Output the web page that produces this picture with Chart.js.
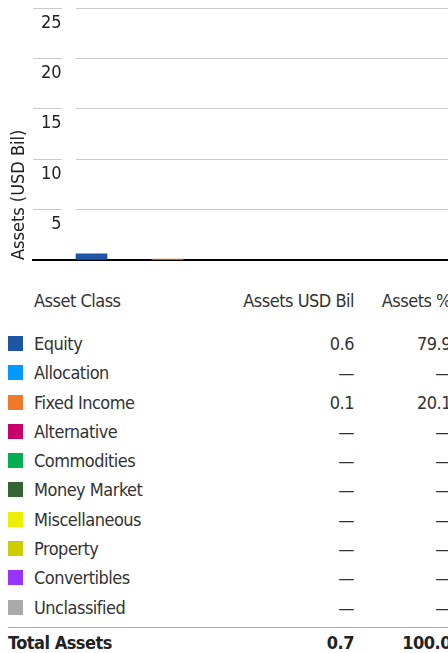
<!DOCTYPE html>
<html>
<head>
<meta charset="utf-8">
<script src="https://cdn.jsdelivr.net/npm/chart.js@4"></script>
<style>
  body { margin: 0; width: 448px; height: 653px; overflow: hidden; background: #fff;
         font-family: "Liberation Sans Narrow", "DejaVu Sans Condensed", sans-serif; color: #333; }
  #wrap { position: absolute; left: 0; top: 0; width: 834px; height: 270px; }
  table { position: absolute; left: 8px; top: 286px; border-collapse: collapse; table-layout: fixed;
          width: 443px; font-size: 18px; letter-spacing: -0.5px; }
  td, th { padding: 0; line-height: 29.3px; vertical-align: top; font-weight: normal; white-space: nowrap; }
  th { height: 43px; }
  .num { text-align: right; }
  .sq { display: inline-block; width: 15px; height: 15px; margin-right: 11px; vertical-align: -1px; }
  tr.last td { padding-bottom: 5px; }
  tr.total td { border-top: 1px solid #aaa; font-weight: bold; color: #222; }
</style>
</head>
<body>
<div id="wrap"><canvas id="assetChart"></canvas></div>
<table id="assetTable">
  <colgroup><col style="width:226px"><col style="width:120px"><col style="width:97px"></colgroup>
  <thead><tr><th style="text-align:left;padding-left:26px">Asset Class</th><th class="num">Assets USD Bil</th><th class="num">Assets %</th></tr></thead>
  <tbody></tbody>
</table>
<script>
const categories = ["Equity", "Allocation", "Fixed Income", "Alternative", "Commodities",
    "Money Market", "Miscellaneous", "Property", "Convertibles", "Unclassified"];
const colors = ["#1f55a5", "#0099ff", "#f07a2a", "#c7006a", "#00b050",
    "#336633", "#eeee00", "#cccc00", "#9933ff", "#aaaaaa"];
const assetsBil = [0.6, null, 0.1, null, null, null, null, null, null, null];
const assetsPct = [79.9, null, 20.1, null, null, null, null, null, null, null];
const totalBil = 0.7;
const totalPct = 100.0;

// order of the bars in the chart
const chartCategories = ["Equity", "Fixed Income", "Allocation", "Alternative", "Commodities",
    "Money Market", "Miscellaneous", "Property", "Convertibles", "Unclassified"];
const yTicks = [0, 5, 10, 15, 20, 25];

const tbody = document.querySelector("#assetTable tbody");
categories.forEach((c, i) => {
    const tr = document.createElement("tr");
    if (i === categories.length - 1) tr.className = "last";
    const b = assetsBil[i] === null ? "\u2014" : assetsBil[i].toFixed(1);
    const p = assetsPct[i] === null ? "\u2014" : assetsPct[i].toFixed(1);
    tr.innerHTML = '<td><span class="sq" style="background:' + colors[i] + '"></span>' + c +
        '</td><td class="num">' + b + '</td><td class="num">' + p + '</td>';
    tbody.appendChild(tr);
});
const totalRow = document.createElement("tr");
totalRow.className = "total";
totalRow.innerHTML = '<td>Total Assets</td><td class="num">' + totalBil.toFixed(1) +
    '</td><td class="num">' + totalPct.toFixed(1) + '</td>';
tbody.appendChild(totalRow);

Chart.defaults.font.family = '"Liberation Sans Narrow", "DejaVu Sans Condensed", sans-serif';
Chart.defaults.color = "#222";

const barData = chartCategories.map((c, i) => ({ x: i, y: assetsBil[categories.indexOf(c)] }));
const barColors = chartCategories.map(c => colors[categories.indexOf(c)]);

new Chart(document.getElementById("assetChart"), {
    type: "bar",
    data: {
        datasets: [{
            label: "Assets USD Bil",
            data: barData,
            backgroundColor: barColors,
            barThickness: 31
        }]
    },
    options: {
        responsive: true,
        maintainAspectRatio: false,
        animation: false,
        layout: { padding: { top: 8, left: 0, right: 0, bottom: 0 } },
        plugins: { legend: { display: false }, tooltip: { enabled: false } },
        scales: {
            x: {
                type: "linear",
                offset: false,
                min: -0.77,
                max: 9.77,
                ticks: { display: false },
                grid: { display: false, offset: false },
                border: { color: "#000", width: 2 },
                afterFit: s => { s.height = 10; s.paddingLeft = 0; s.paddingRight = 0; }
            },
            y: {
                min: 0,
                max: 25,
                afterBuildTicks: s => { s.ticks = yTicks.map(v => ({ value: v })); },
                ticks: {
                    mirror: true,
                    crossAlign: "far",
                    padding: 8,
                    labelOffset: 15,
                    font: { size: 18 },
                    callback: v => v === 0 ? "" : v
                },
                grid: {
                    drawTicks: false,
                    color: c => c.tick && c.tick.value === 0 ? "rgba(0,0,0,0)" : "#cccccc",
                    lineWidth: 1
                },
                border: { display: false, dash: [29, 14, 2000, 0] },
                title: {
                    display: true,
                    text: "Assets (USD Bil)",
                    align: "start",
                    font: { size: 18 },
                    padding: { top: 9, bottom: 0 }
                },
                afterFit: s => { s.width = 33; s.paddingTop = 0; s.paddingBottom = 0; }
            }
        }
    }
});
</script>
</body>
</html>
